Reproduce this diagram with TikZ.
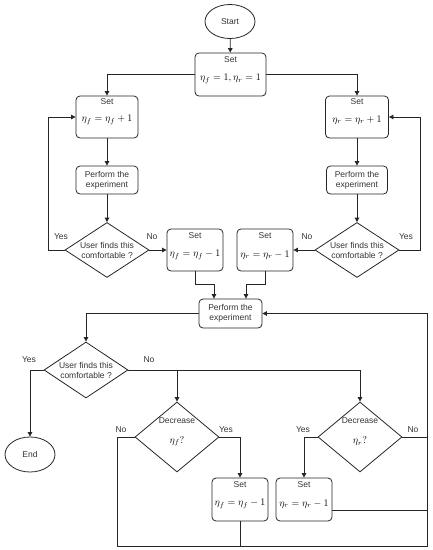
\documentclass[tikz,border=0pt]{standalone}
\usepackage{fontspec}
\setmainfont{Liberation Sans}
\usetikzlibrary{shapes.geometric,arrows.meta}
\begin{document}
\begin{tikzpicture}[x=1pt,y=-1pt,
  every node/.style={font=\fontsize{8.5}{10}\selectfont, text=black!80},
  line/.style={draw=black!85, line width=0.8pt},
  arr/.style={line, -{Triangle[length=4.5pt,width=4.5pt]}},
  box/.style={draw=black!85, line width=0.8pt, rounded corners=4pt, inner sep=0pt, align=center},
  oval/.style={draw=black!85, line width=0.8pt, ellipse, inner sep=0pt},
  dia/.style={draw=black!85, line width=0.8pt, diamond, inner sep=0pt, align=center},
  mth/.style={font=\fontsize{10}{12}\selectfont, text=black, inner sep=0pt},
  lbl/.style={inner sep=0pt}]
\useasboundingbox (0,0) rectangle (433,550);
% nodes
\node[oval, minimum width=50pt, minimum height=34pt] (start) at (230,21.5) {Start};
\node[box, minimum width=71pt, minimum height=43pt] (set0) at (230.5,74.5) {};
\node[box, minimum width=62pt, minimum height=42pt] (setL) at (107,117) {};
\node[box, minimum width=63pt, minimum height=42pt] (setR) at (357,117) {};
\node[box, minimum width=62pt, minimum height=28pt] (perfL) at (107,180) {Perform the\\experiment};
\node[box, minimum width=61pt, minimum height=28pt] (perfR) at (357,180) {Perform the\\experiment};
\node[dia, minimum width=84pt, minimum height=55pt] (decL) at (107,250) {};
\node[dia, minimum width=84pt, minimum height=55pt] (decR) at (357,250) {};
\node[box, minimum width=56pt, minimum height=42pt] (setML) at (195,250) {};
\node[box, minimum width=56pt, minimum height=42pt] (setMR) at (265,250) {};
\node[box, minimum width=63pt, minimum height=29pt] (perfC) at (230.5,313.5) {Perform the\\experiment};
\node[dia, minimum width=84pt, minimum height=56pt] (decC) at (86,370) {};
\node[oval, minimum width=50pt, minimum height=35pt] (end) at (30,454.5) {End};
\node[dia, minimum width=84pt, minimum height=70pt] (decDL) at (177,437) {};
\node[dia, minimum width=84pt, minimum height=70pt] (decDR) at (360,437) {};
\node[box, minimum width=56pt, minimum height=43pt] (setBL) at (240,499.5) {};
\node[box, minimum width=56pt, minimum height=43pt] (setBR) at (304,499.5) {};
% texts inside
\node[lbl] (t0a) at (230.5,60) {Set};
\node[mth] (t0b) at (230.5,79) {$\eta_f=1,\eta_r=1$};
\node[lbl] (tLa) at (107,102) {Set};
\node[mth] (tLb) at (107,120) {$\eta_f=\eta_f+1$};
\node[lbl] (tRa) at (357,102) {Set};
\node[mth] (tRb) at (357,120) {$\eta_r=\eta_r+1$};
\node[lbl, align=center] (qL) at (107,250) {User finds this\\comfortable ?};
\node[lbl, align=center] (qR) at (357,250) {User finds this\\comfortable ?};
\node[lbl] (tMLa) at (195,236) {Set};
\node[mth] (tMLb) at (195,255) {$\eta_f=\eta_f-1$};
\node[lbl] (tMRa) at (265,236) {Set};
\node[mth] (tMRb) at (265,255) {$\eta_r=\eta_r-1$};
\node[lbl, align=center] (qC) at (86,370) {User finds this\\comfortable ?};
\node[lbl] (dLa) at (177,421) {Decrease};
\node[mth] (dLb) at (177,441) {$\eta_f?$};
\node[lbl] (dRa) at (360,421) {Decrease};
\node[mth] (dRb) at (360,441) {$\eta_r?$};
\node[lbl] (tBLa) at (240,485) {Set};
\node[mth] (tBLb) at (240,504) {$\eta_f=\eta_f-1$};
\node[lbl] (tBRa) at (304,485) {Set};
\node[mth] (tBRb) at (304,504) {$\eta_r=\eta_r-1$};
% edge labels
\node[lbl] (y1) at (61,237) {Yes};
\node[lbl] (n1) at (152,237) {No};
\node[lbl] (n2) at (307,237) {No};
\node[lbl] (y2) at (406,237) {Yes};
\node[lbl] (y3) at (29,360) {Yes};
\node[lbl] (n3) at (149,360) {No};
\node[lbl] (n4) at (121,430) {No};
\node[lbl] (y4) at (226,430) {Yes};
\node[lbl] (y5) at (303,430) {Yes};
\node[lbl] (n5) at (413,430) {No};
% coordinates
\coordinate (lloop) at (48,250);
\coordinate (rloop) at (420,250);
\coordinate (bl) at (117,546);
\coordinate (br) at (427,546);
\coordinate (rt) at (427,313.5);
% connectors
\draw[arr] (start) -- (set0);
\draw[arr] (set0.west) -| (setL.north);
\draw[arr] (set0.east) -| (setR.north);
\draw[arr] (setL) -- (perfL);
\draw[arr] (perfL) -- (decL.north);
\draw[arr] (setR) -- (perfR);
\draw[arr] (perfR) -- (decR.north);
\draw[arr] (decL.west) -- (lloop) |- (setL.west);
\draw[arr] (decR.east) -- (rloop) |- (setR.east);
\draw[arr] (decL.east) -- (setML.west);
\draw[arr] (decR.west) -- (setMR.east);
\draw[arr] (setML.south) -- ++(0,13) -| ([xshift=-16.5pt]perfC.north);
\draw[arr] (setMR.south) -- ++(0,13) -| ([xshift=15.5pt]perfC.north);
\draw[arr] (perfC.west) -| (decC.north);
\draw[arr] (decC.west) -| (end.north);
\draw[arr] (decC.east) -| (decDR.north);
\draw[arr] (decDL.north |- decC.east) -- (decDL.north);
\draw[arr] (decDL.east) -| (setBL.north);
\draw[arr] (decDR.west) -| (setBR.north);
\draw[arr] (decDL.west) -| (bl) -- (br) -- (rt) -- (perfC.east);
\draw[line] (setBL.south) -- (setBL.south |- bl);
\draw[line] (decDR.east) -- (decDR.east -| br);
\draw[line] ([yshift=-10.5pt]setBR.east) -- ([yshift=-10.5pt]setBR.east -| br);
\end{tikzpicture}
\end{document}
